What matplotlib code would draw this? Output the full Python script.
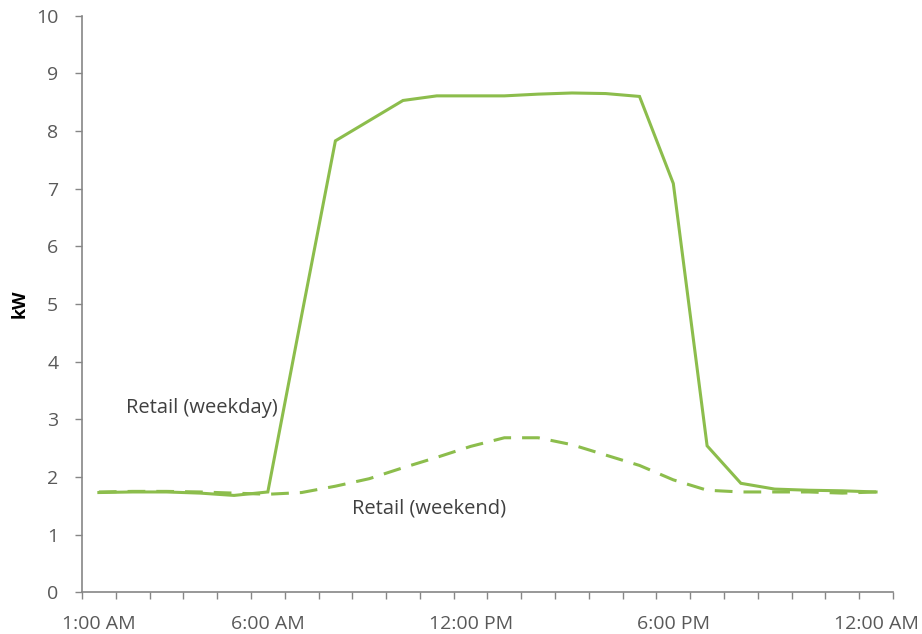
import matplotlib
matplotlib.use("Agg")
import matplotlib.pyplot as plt
import numpy as np

hours = list(range(1, 25))
weekday = [1.73, 1.74, 1.74, 1.72, 1.68, 1.74, 4.80, 7.83, 8.18, 8.53, 8.61, 8.61,
           8.61, 8.64, 8.66, 8.65, 8.60, 7.09, 2.54, 1.89, 1.79, 1.77, 1.76, 1.74]
weekend = [1.74, 1.75, 1.75, 1.74, 1.72, 1.70, 1.73, 1.84, 1.97, 2.16, 2.34, 2.53,
           2.68, 2.68, 2.56, 2.38, 2.20, 1.95, 1.77, 1.74, 1.74, 1.74, 1.72, 1.74]
label_hours = [1, 6, 12, 18, 24]
label_texts = ["1:00 AM", "6:00 AM", "12:00 PM", "6:00 PM", "12:00 AM"]

plt.rcParams['font.family'] = ['Open Sans', 'DejaVu Sans']
green = '#8cbd4c'
gray_text = '#595959'
axis_col = '#868686'

fig = plt.figure(figsize=(9.22, 6.34), dpi=100)
ax = fig.add_axes([0.0889, 0.0658, 0.9685 - 0.0889, 0.9752 - 0.0658])

ax.plot(hours, weekday, color=green, lw=2.2, solid_joinstyle='miter')
ax.plot(hours, weekend, color=green, lw=2.2, dashes=(5.8, 3.6))

ax.set_xlim(0.5, 24.5)
ax.set_ylim(0, 10)

ax.set_xticks(np.arange(0.5, 25, 1))
ax.set_xticklabels([])
ax.set_xticks(label_hours, minor=True)
ax.set_xticklabels(label_texts, minor=True)
ax.tick_params(axis='x', which='major', direction='out', length=5, color=axis_col, width=1)
ax.tick_params(axis='x', which='minor', length=0, pad=16, labelsize=14, labelcolor=gray_text)

ax.set_yticks(range(0, 11))
ax.tick_params(axis='y', direction='out', length=5, color=axis_col, width=1,
               labelsize=14, labelcolor=gray_text, pad=12)

for s in ['top', 'right']:
    ax.spines[s].set_visible(False)
for s in ['left', 'bottom']:
    ax.spines[s].set_color(axis_col)
    ax.spines[s].set_linewidth(1.2)

ax.set_ylabel('kW', fontsize=13, fontweight='bold', color='black', labelpad=5)

ax.text(1.80, 3.20, 'Retail (weekday)', fontsize=14.5, color='#404040', va='center', ha='left')
ax.text(8.49, 1.46, 'Retail (weekend)', fontsize=14.5, color='#404040', va='center', ha='left')

fig.savefig('out.png', dpi=100)
